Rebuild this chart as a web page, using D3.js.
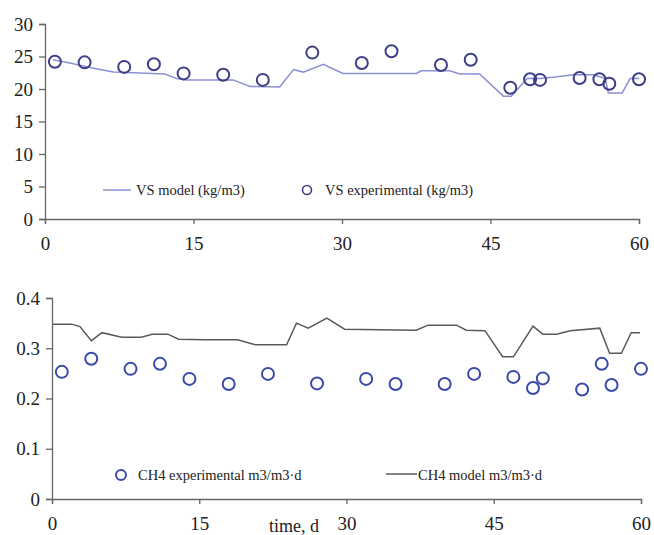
<!DOCTYPE html>
<html lang='en'>
<head>
<meta charset='UTF-8'>
<title>VS and CH4 model vs experimental</title>
<script src="https://d3js.org/d3.v7.min.js"></script>
<style>
  body { margin: 0; background: #fff; }
  svg text { font-family: 'Liberation Serif', 'Times New Roman', serif; fill: #222; }
</style>
</head>
<body>
<svg id='chart' width='654' height='535'></svg>
<script>
// experimental sampling days (same for both panels)
let expDays = [1, 4, 8, 11, 14, 18, 22, 27, 32, 35, 40, 43, 47, 49, 50, 54, 56, 57, 60]
let vsExp = [24.2, 24.1, 23.4, 23.8, 22.4, 22.2, 21.4, 25.6, 24.0, 25.8, 23.7, 24.5, 20.2, 21.5, 21.4, 21.7, 21.5, 20.8, 21.5]
let ch4Exp = [0.253, 0.279, 0.259, 0.269, 0.239, 0.229, 0.249, 0.230, 0.239, 0.229, 0.229, 0.249, 0.243, 0.221, 0.240, 0.218, 0.269, 0.227, 0.259]

// VS model curve
let vsModelT = [0.8, 2.5, 4.9, 6.9, 8.9, 12.1, 13.3, 14.3, 17.3, 19.0, 20.7, 23.7, 25.1, 26.1, 28.1, 30.1, 37.5, 38.0, 40.9, 41.9, 43.9, 46.3, 47.1, 48.7, 50.0, 51.3, 53.4, 55.4, 56.6, 56.9, 58.3, 59.1, 60.0]
let vsModelV = [24.5, 24.0, 23.2, 22.6, 22.5, 22.3, 21.6, 21.4, 21.4, 21.4, 20.4, 20.3, 23.0, 22.6, 23.8, 22.4, 22.4, 22.8, 22.8, 22.3, 22.3, 18.9, 18.9, 21.6, 21.6, 21.8, 22.2, 22.2, 21.6, 19.4, 19.4, 21.6, 21.6]

// CH4 model curve
let ch4ModelT = [0.1, 2.0, 2.85, 4.0, 5.1, 7.1, 9.1, 10.2, 11.8, 12.9, 15.6, 18.9, 20.7, 23.9, 24.9, 26.1, 28.0, 29.8, 37.1, 38.3, 41.2, 42.2, 44.1, 45.9, 47.0, 49.0, 50.0, 51.4, 52.8, 55.8, 56.8, 58.0, 59.0, 59.9]
let ch4ModelV = [0.348, 0.348, 0.343, 0.315, 0.331, 0.322, 0.322, 0.328, 0.328, 0.318, 0.317, 0.317, 0.307, 0.307, 0.350, 0.340, 0.360, 0.338, 0.336, 0.346, 0.346, 0.336, 0.335, 0.283, 0.283, 0.344, 0.328, 0.328, 0.335, 0.340, 0.290, 0.290, 0.331, 0.331]

let xTicks = [0, 15, 30, 45, 60]
let vsTicks = [0, 5, 10, 15, 20, 25, 30]
let ch4Ticks = [0, 0.1, 0.2, 0.3, 0.4]

let svg = d3.select('#chart')
let serif = "'Liberation Serif', 'Times New Roman', serif"

function panel(opts) {
    let x = d3.scaleLinear().domain([0, 60]).range([opts.left, opts.right])
    let y = d3.scaleLinear().domain(opts.yDomain).range([opts.bottom, opts.top])
    let g = svg.append('g')

    let xAxis = g.append('g')
        .attr('transform', `translate(0,${opts.bottom})`)
        .call(d3.axisBottom(x).tickValues(xTicks).tickSize(5).tickPadding(13).tickFormat(d3.format('d')))
    let yAxis = g.append('g')
        .attr('transform', `translate(${opts.left},0)`)
        .call(d3.axisLeft(y).tickValues(opts.yTicks).tickSize(6).tickPadding(6).tickFormat(opts.yFormat))
    ;[xAxis, yAxis].forEach(a => {
        a.attr('font-family', null)
        a.select('.domain').attr('stroke', '#666').attr('stroke-width', 1.3)
        a.selectAll('.tick line').attr('stroke', '#666').attr('stroke-width', 1.3)
        a.selectAll('.tick text')
            .style('font-family', serif)
            .style('font-size', '19px')
            .attr('fill', '#222')
    })

    let line = d3.line().x(d => x(d[0])).y(d => y(d[1]))
    g.append('path')
        .datum(d3.zip(opts.modelT, opts.modelV))
        .attr('d', line)
        .attr('fill', 'none')
        .attr('stroke', opts.lineColor)
        .attr('stroke-width', 1.5)

    g.selectAll('circle.exp')
        .data(d3.zip(expDays, opts.exp))
        .enter()
        .append('circle')
        .attr('class', 'exp')
        .attr('cx', d => x(d[0]))
        .attr('cy', d => y(d[1]))
        .attr('r', 6)
        .attr('fill', 'none')
        .attr('stroke', opts.dotColor)
        .attr('stroke-width', 2)
    return g
}

let vsPanel = panel({
    left: 45, right: 639, top: 24, bottom: 219,
    yDomain: [0, 30], yTicks: vsTicks, yFormat: d3.format('d'),
    modelT: vsModelT, modelV: vsModelV, exp: vsExp,
    lineColor: '#8c90d2', dotColor: '#3d3f86'
})
let ch4Panel = panel({
    left: 52, right: 641, top: 298, bottom: 499,
    yDomain: [0, 0.4], yTicks: ch4Ticks, yFormat: d => d === 0 ? '0' : d3.format('.1f')(d),
    modelT: ch4ModelT, modelV: ch4ModelV, exp: ch4Exp,
    lineColor: '#5a5a5a', dotColor: '#3b4aa8'
})

// legends
vsPanel.append('line').attr('x1', 103).attr('x2', 131).attr('y1', 190).attr('y2', 190)
    .attr('stroke', '#8c90d2').attr('stroke-width', 1.5)
vsPanel.append('text').attr('x', 136).attr('y', 195).style('font-size', '14.5px').text('VS model (kg/m3)')
vsPanel.append('circle').attr('cx', 307).attr('cy', 190).attr('r', 4.5)
    .attr('fill', 'none').attr('stroke', '#3d3f86').attr('stroke-width', 1.6)
vsPanel.append('text').attr('x', 325).attr('y', 195).style('font-size', '14.5px').text('VS experimental (kg/m3)')

ch4Panel.append('circle').attr('cx', 121).attr('cy', 475).attr('r', 5)
    .attr('fill', 'none').attr('stroke', '#3b4aa8').attr('stroke-width', 2)
ch4Panel.append('text').attr('x', 138).attr('y', 480).style('font-size', '14.5px').text('CH4 experimental m3/m3·d')
ch4Panel.append('line').attr('x1', 386).attr('x2', 417).attr('y1', 474).attr('y2', 474)
    .attr('stroke', '#5a5a5a').attr('stroke-width', 1.5)
ch4Panel.append('text').attr('x', 418).attr('y', 480).style('font-size', '14.5px').text('CH4 model m3/m3·d')

ch4Panel.append('text').attr('x', 294).attr('y', 532).style('font-size', '18px')
    .attr('text-anchor', 'middle').text('time, d')
</script>
</body>
</html>
